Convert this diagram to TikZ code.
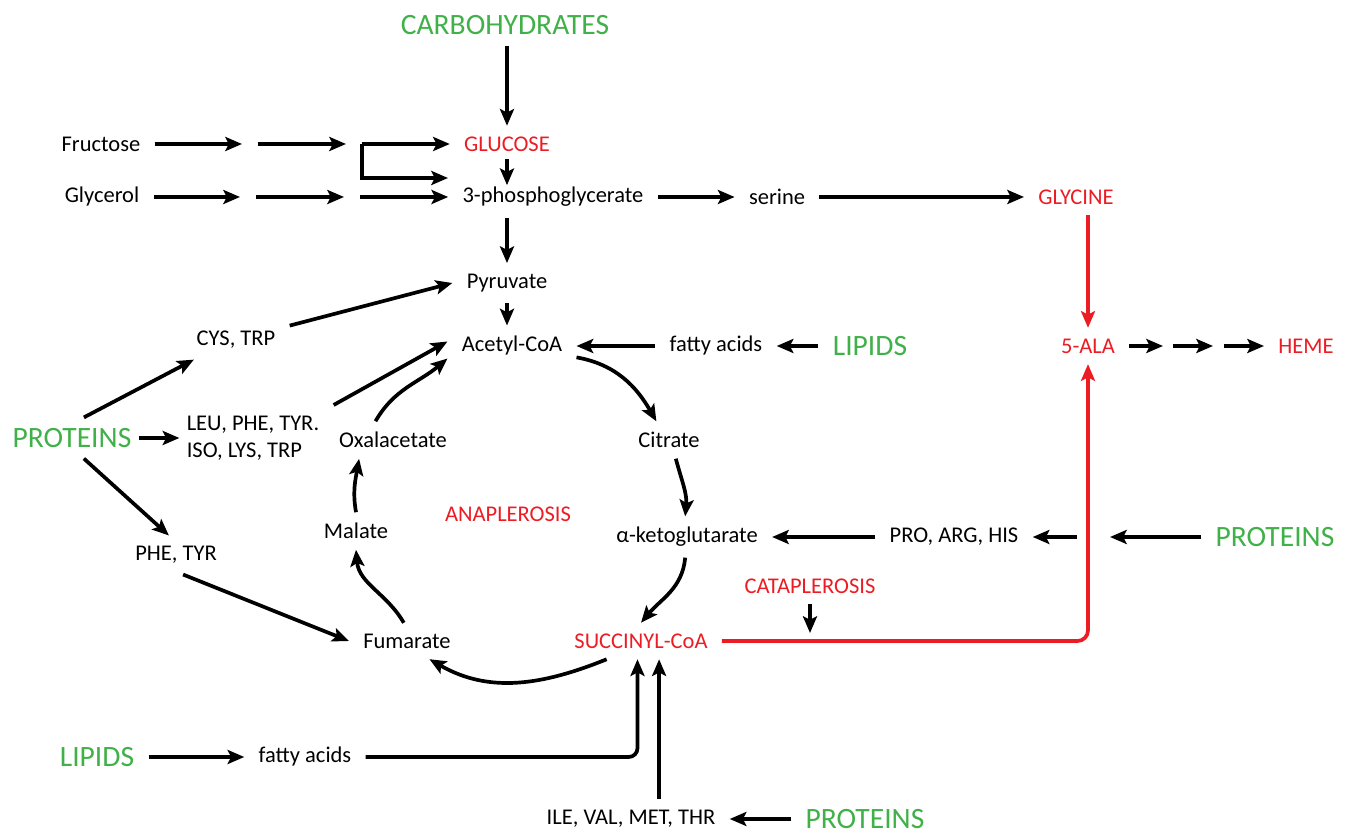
\documentclass[tikz,border=0pt]{standalone}
\usepackage{fontspec}
\setmainfont{Carlito}
\usepackage{tikz}
\usetikzlibrary{arrows.meta,positioning}
\definecolor{pwgreen}{RGB}{64,176,72}
\definecolor{pwred}{RGB}{236,28,36}

\begin{document}
\begin{tikzpicture}[x=0.02cm, y=-0.02cm]
			\tikzstyle{Txt}		= [inner xsep=8pt, inner ysep=6pt, font=\fontsize{12.8}{15.3}\selectfont]
			\tikzstyle{Src}		= [Txt, text=pwgreen, font=\fontsize{16.8}{20}\selectfont]
			\tikzstyle{Key}		= [Txt, text=pwred]
			\tikzstyle{Flow}	= [line width=2.1pt, -{Stealth[length=9.5pt, width=8pt, inset=2pt]}]
			\tikzstyle{RFlow}	= [Flow, pwred]

			\useasboundingbox (0,0) rectangle (1350,834);

			% glycolysis side
			\node (carb) at (505, 25) [Src] {CARBOHYDRATES};
			\node (fru) at (101, 144) [Txt] {Fructose};
			\node (gly) at (102, 197) [Txt] {Glycerol};
			\node (glu) at (507, 144) [Key] {GLUCOSE};
			\node (pga) at (553, 197) [Txt] {3-phosphoglycerate};
			\node (ser) at (777, 197) [Txt] {serine};
			\node (glyc) at (1076, 197) [Key] {GLYCINE};
			\node (pyr) at (507, 283) [Txt] {Pyruvate};
			\node (acoa) at (512, 346) [Txt] {Acetyl-CoA};
			\node (fa1) at (716, 346) [Txt] {fatty acids};
			\node (lip1) at (870, 346) [Src] {LIPIDS};
			\node (ala) at (1088, 346) [Key] {5-ALA};
			\node (heme) at (1306, 346) [Key] {HEME};

			% cycle
			\node (oxa) at (393, 440) [Txt] {Oxalacetate};
			\node (mal) at (356, 531) [Txt] {Malate};
			\node (fum) at (407, 641) [Txt] {Fumarate};
			\node (cit) at (669, 440) [Txt] {Citrate};
			\node (akg) at (687, 537) [Txt] {α-ketoglutarate};
			\node (succ) at (641, 641) [Key] {SUCCINYL-CoA};
			\node (anap) at (508, 514) [Key] {ANAPLEROSIS};
			\node (cata) at (810, 586) [Key] {CATAPLEROSIS};

			% amino acid inputs
			\node (cys) at (236, 340) [Txt] {CYS, TRP};
			\node (prot1) at (72, 438) [Src] {PROTEINS};
			\node (leu) at (253, 438) [Txt, align=left] {LEU, PHE, TYR.\\ISO, LYS, TRP};
			\node (phe) at (176, 555) [Txt] {PHE, TYR};
			\node (pro) at (954, 537) [Txt] {PRO, ARG, HIS};
			\node (prot2) at (1275, 537) [Src] {PROTEINS};
			\node (lip2) at (97, 757) [Src] {LIPIDS};
			\node (fa2) at (305, 757) [Txt] {fatty acids};
			\node (ile) at (631, 819) [Txt] {ILE, VAL, MET, THR};
			\node (prot3) at (865, 819) [Src] {PROTEINS};

			\coordinate (f1) at (242, 144);
			\coordinate (f2) at (258, 144);
			\coordinate (f3) at (346, 144);
			\coordinate (f4) at (362, 144);
			\coordinate (f5) at (448, 178);
			\coordinate (g1) at (240, 197);
			\coordinate (g2) at (256, 197);
			\coordinate (g3) at (344, 197);
			\coordinate (g4) at (360, 197);
			\coordinate (h1) at (1163, 346);
			\coordinate (h2) at (1173, 346);
			\coordinate (h3) at (1213, 346);
			\coordinate (h4) at (1224, 346);
			\coordinate (pa) at (1110, 537);
			\coordinate (pb) at (1077, 537);
			\coordinate (ctip) at (810, 633);

			\draw [Flow] (glu |- carb.south) to (glu);
			\draw [Flow] (fru) to (f1);
			\draw [Flow] (f2) to (f3);
			\draw [Flow] (f4) to (glu);
			\draw [Flow] (f4) |- (f5);
			\draw [Flow] (gly) to (g1);
			\draw [Flow] (g2) to (g3);
			\draw [Flow] (g4) to (pga);
			\draw [Flow] ([yshift=2pt]glu.south) to ([yshift=-5pt]glu.south |- pga.north);
			\draw [Flow] (pga) to (ser);
			\draw [Flow] (ser) to (glyc);
			\draw [Flow] (pyr |- pga.south) to (pyr);
			\draw [Flow] (pyr) to (pyr |- acoa.north);
			\draw [Flow] (fa1) to (acoa);
			\draw [Flow] (lip1) to (fa1);
			\draw [RFlow] (ala |- glyc.south) to (ala);
			\draw [Flow] (ala) to (h1);
			\draw [Flow] (h2) to (h3);
			\draw [Flow] (h4) to (heme);

			\draw [Flow] (acoa.-10) to [out=-10, in=120] (cit.124);
			\draw [Flow] (cit.-70) to [out=-75, in=85] (akg.95);
			\draw [Flow] (akg.-95) to [out=-95, in=50] (succ.north);
			\draw [Flow] (succ.208) to [out=202, in=-30] (fum.-39);
			\draw [Flow] (fum.100) to [out=120, in=-85] (mal.south);
			\draw [Flow] (mal.north) to [out=100, in=-100] (oxa.209);
			\draw [Flow] (oxa.133) to [out=60, in=-140] (acoa.191);

			\draw [Flow] (cys.15) to (pyr.west);
			\draw [Flow] (prot1.60) to (cys.205);
			\draw [Flow] ([xshift=-4pt]prot1.east) to ([xshift=4pt]leu.west);
			\draw [Flow] (prot1.-60) to (phe.110);
			\draw [Flow] (leu.north east) to (acoa.176);
			\draw [Flow] (phe.-70) to (fum.west);

			\draw [RFlow, rounded corners=6pt] (succ.east) -| (ala.south);
			\draw [Flow] (cata) to (ctip);
			\draw [Flow] (prot2) to (pa);
			\draw [Flow] (pb) to (pro);
			\draw [Flow] (pro) to (akg);

			\draw [Flow] (lip2) to (fa2);
			\draw [Flow, rounded corners=5pt] (fa2.east) -| ([xshift=-2pt]succ.south);
			\draw [Flow] ([xshift=16pt]ile.north) to ([xshift=16pt]ile.north |- succ.south);
			\draw [Flow] (prot3) to (ile);
		\end{tikzpicture}
\end{document}
